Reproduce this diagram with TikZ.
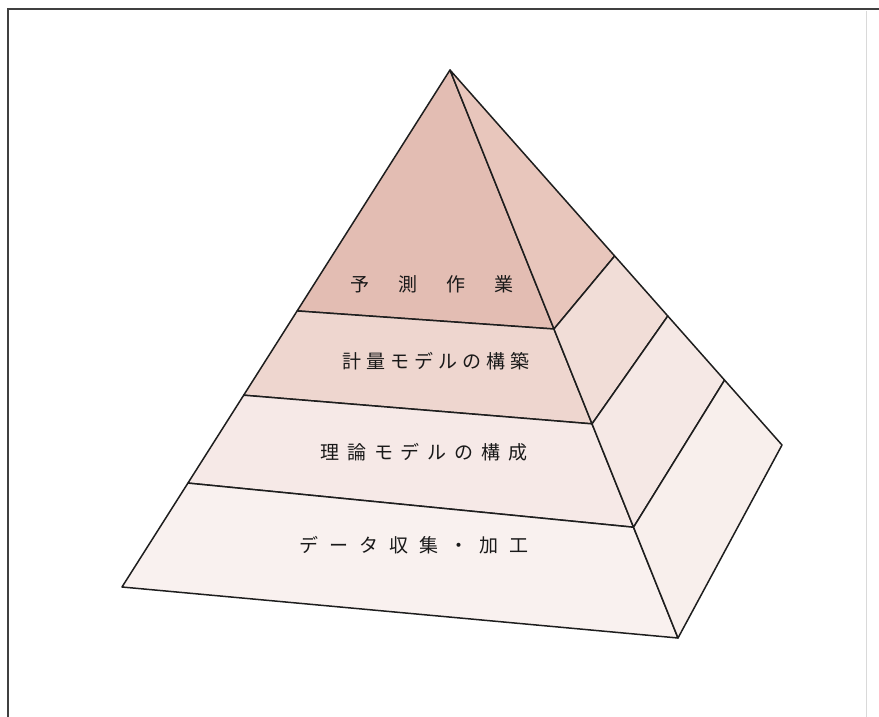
\documentclass[tikz,border=0pt]{standalone}
\usepackage{fontspec}
\newfontfamily\cjk{Noto Sans CJK JP}
\usetikzlibrary{calc}
\definecolor{fA}{HTML}{E3BDB3}
\definecolor{sA}{HTML}{E8C6BC}
\definecolor{fB}{HTML}{EED6CF}
\definecolor{sB}{HTML}{F1DDD7}
\definecolor{fC}{HTML}{F6E9E7}
\definecolor{sC}{HTML}{F5E8E5}
\definecolor{fD}{HTML}{F9F1EF}
\definecolor{sD}{HTML}{F8EFEC}
\definecolor{edge}{HTML}{1E1E1E}
\tikzset{
  face/.style={draw=edge, line width=1.5pt, line join=round},
  lbl/.style={font=\cjk\fontsize{19}{19}\selectfont, text=black!90, inner sep=0pt},
  frameline/.style={draw=black!75, line width=1.8pt}
}
\newcommand\gp[1]{\hskip#1pt}
\begin{document}
\begin{tikzpicture}[x=1pt,y=-1pt]
\useasboundingbox (0,0) rectangle (879,717);
\fill[white] (0,0) rectangle (879,717);
% frame
\draw[frameline] (8,717) -- (8,9) -- (879,9);
\draw[black!15, line width=0.8pt] (866,11) -- (866,717);
% key points
\coordinate (A) at (450,70);
\coordinate (BL) at (122,587);
\coordinate (BR) at (678,638);
\coordinate (BB) at (782,445);
\coordinate (L1) at ($(A)!0.466!(BL)$);
\coordinate (L2) at ($(A)!0.629!(BL)$);
\coordinate (L3) at ($(A)!0.799!(BL)$);
\coordinate (R1) at ($(A)!0.456!(BR)$);
\coordinate (R2) at ($(A)!0.623!(BR)$);
\coordinate (R3) at ($(A)!0.805!(BR)$);
\coordinate (B1) at ($(A)!0.496!(BB)$);
\coordinate (B2) at ($(A)!0.656!(BB)$);
\coordinate (B3) at ($(A)!0.827!(BB)$);
% front faces
\filldraw[face, fill=fA] (A) -- (L1) -- (R1) -- cycle;
\filldraw[face, fill=fB] (L1) -- (L2) -- (R2) -- (R1) -- cycle;
\filldraw[face, fill=fC] (L2) -- (L3) -- (R3) -- (R2) -- cycle;
\filldraw[face, fill=fD] (L3) -- (BL) -- (BR) -- (R3) -- cycle;
% side faces
\filldraw[face, fill=sA] (A) -- (R1) -- (B1) -- cycle;
\filldraw[face, fill=sB] (R1) -- (R2) -- (B2) -- (B1) -- cycle;
\filldraw[face, fill=sC] (R2) -- (R3) -- (B3) -- (B2) -- cycle;
\filldraw[face, fill=sD] (R3) -- (BR) -- (BB) -- (B3) -- cycle;
% labels
\node[lbl] (t1) at (432,284) {予\gp{29}測\gp{29}作\gp{29}業};
\node[lbl] (t2) at (436,361) {計\gp{5}量\gp{5}モ\gp{5}デ\gp{5}ル\gp{5}の\gp{5}構\gp{5}築};
\node[lbl] (t3) at (424,452) {理\gp{8}論\gp{8}モ\gp{8}デ\gp{8}ル\gp{8}の\gp{8}構\gp{8}成};
\node[lbl] (t4) at (414,545) {デ\gp{11}ー\gp{11}タ\gp{11}収\gp{11}集\gp{11}・\gp{11}加\gp{11}工};
\end{tikzpicture}
\end{document}
